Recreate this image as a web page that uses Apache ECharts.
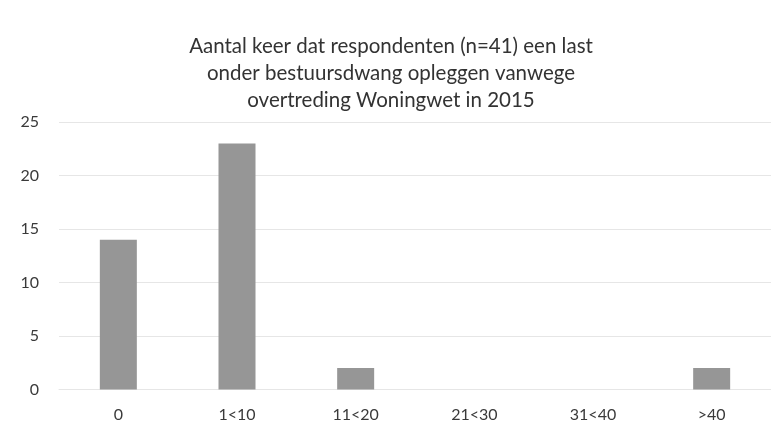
<!DOCTYPE html>
<html>
<head>
<meta charset="utf-8">
<script src="https://cdn.jsdelivr.net/npm/echarts@6/dist/echarts.min.js"></script>
<style>
  html, body { margin: 0; padding: 0; background: #fff; }
  #chart { width: 771px; height: 424px; }
</style>
</head>
<body>
<div id="chart"></div>
<script>
const categories = ['0', '1<10', '11<20', '21<30', '31<40', '>40']
const counts = [14, 23, 2, 0, 0, 2]
const titleText = 'Aantal keer dat respondenten (n=41) een last\nonder bestuursdwang opleggen vanwege\novertreding Woningwet in 2015'

const chart = echarts.init(document.getElementById('chart'))
chart.setOption({
  animation: false,
  title: {
    text: titleText,
    left: 386,
    top: 28,
    textAlign: 'center',
    textStyle: {
      fontFamily: 'Lato',
      fontSize: 20.5,
      fontWeight: 'normal',
      color: '#333',
      lineHeight: 27
    }
  },
  grid: {
    left: 59,
    top: 122,
    width: 718,
    bottom: 34.5,
    containLabel: false
  },
  xAxis: {
    type: 'category',
    data: categories,
    axisLine: { show: true, lineStyle: { color: '#e6e6e6', width: 1 } },
    axisTick: { show: false },
    axisLabel: {
      margin: 17,
      fontFamily: 'Lato',
      fontSize: 16,
      color: '#3a3a3a'
    }
  },
  yAxis: {
    type: 'value',
    min: 0,
    max: 25,
    interval: 5,
    axisLine: { show: false },
    axisTick: { show: false },
    splitLine: { lineStyle: { color: '#e6e6e6', width: 1 } },
    axisLabel: {
      margin: 20,
      fontFamily: 'Lato',
      fontSize: 16,
      color: '#3a3a3a'
    }
  },
  series: [
    {
      type: 'bar',
      data: counts,
      barWidth: 37,
      itemStyle: { color: '#969696' }
    }
  ]
})
</script>
</body>
</html>
